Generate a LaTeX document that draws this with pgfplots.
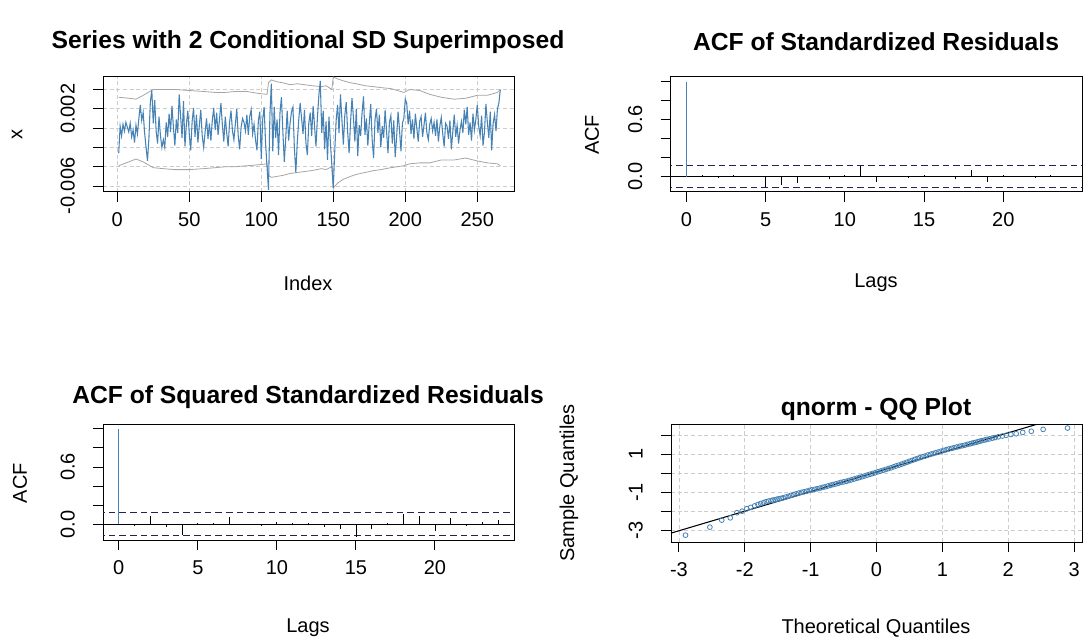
\documentclass[border=0pt]{standalone}
\usepackage{pgfplots}
\pgfplotsset{compat=1.18}
\usepackage{pgfplotstable}
\usepackage{fontspec}
\setmainfont{Liberation Sans}
\definecolor{steel}{RGB}{70,130,180}
\definecolor{gridgray}{RGB}{205,205,205}
\definecolor{sdgray}{RGB}{165,165,165}
\definecolor{cinavy}{RGB}{35,35,85}
\newcommand{\tickfont}{\fontsize{15}{15}\selectfont}
\newcommand{\titlefont}{\bfseries\fontsize{18.5}{18.5}\selectfont}

\pgfplotstableread[row sep=\\]{
i v\\
1 -0.0026\\ 2 0.0002\\ 3 -0.0008\\ 4 0.0004\\ 5 -0.0003\\ 6 0.0006\\ 7 0.0001\\ 8 -0.0004\\ 9 0.0005\\ 10 -0.0009\\
11 -0.0002\\ 12 -0.0015\\ 13 0.0003\\ 14 -0.0006\\ 15 0.0010\\ 16 0.0024\\ 17 0.0008\\ 18 0.0016\\ 19 -0.0005\\ 20 -0.0020\\
21 -0.0034\\ 22 -0.0010\\ 23 0.0028\\ 24 0.0039\\ 25 0.0005\\ 26 0.0029\\ 27 -0.0003\\ 28 -0.0016\\ 29 0.0012\\ 30 -0.0008\\
31 -0.0020\\ 32 -0.0012\\ 33 -0.0020\\ 34 0.0006\\ 35 -0.0009\\ 36 0.0015\\ 37 -0.0004\\ 38 0.0023\\ 39 0.0001\\ 40 -0.0018\\
41 0.0009\\ 42 -0.0005\\ 43 0.0035\\ 44 0.0012\\ 45 -0.0010\\ 46 0.0028\\ 47 -0.0019\\ 48 0.0004\\ 49 0.0018\\ 50 -0.0006\\
51 -0.0023\\ 52 0.0007\\ 53 0.0021\\ 54 -0.0009\\ 55 0.0014\\ 56 -0.0015\\ 57 0.0003\\ 58 0.0019\\ 59 -0.0008\\ 60 -0.0020\\
61 -0.0004\\ 62 0.0010\\ 63 -0.0011\\ 64 0.0005\\ 65 -0.0013\\ 66 0.0008\\ 67 0.0021\\ 68 -0.0002\\ 69 0.0016\\ 70 -0.0007\\
71 0.0009\\ 72 0.0026\\ 73 0.0003\\ 74 -0.0014\\ 75 0.0012\\ 76 -0.0005\\ 77 -0.0019\\ 78 0.0006\\ 79 0.0018\\ 80 -0.0003\\
81 -0.0012\\ 82 0.0004\\ 83 0.0020\\ 84 -0.0008\\ 85 -0.0022\\ 86 0.0001\\ 87 0.0010\\ 88 0.0006\\ 89 -0.0003\\ 90 0.0014\\
91 -0.0007\\ 92 0.0012\\ 93 0.0019\\ 94 -0.0006\\ 95 0.0004\\ 96 -0.0012\\ 97 -0.0023\\ 98 0.0008\\ 99 0.0017\\ 100 -0.0032\\
101 0.0009\\ 102 0.0022\\ 103 -0.0016\\ 104 -0.0040\\ 105 -0.0064\\ 106 0.0014\\ 107 0.0046\\ 108 -0.0024\\ 109 0.0022\\ 110 -0.0010\\
111 0.0009\\ 112 -0.0028\\ 113 0.0016\\ 114 0.0032\\ 115 -0.0004\\ 116 -0.0035\\ 117 -0.0010\\ 118 0.0018\\ 119 -0.0013\\ 120 0.0005\\
121 0.0017\\ 122 0.0022\\ 123 -0.0021\\ 124 -0.0046\\ 125 -0.0015\\ 126 0.0008\\ 127 0.0026\\ 128 0.0010\\ 129 -0.0006\\ 130 0.0019\\
131 -0.0015\\ 132 -0.0028\\ 133 0.0005\\ 134 0.0016\\ 135 -0.0008\\ 136 0.0023\\ 137 0.0002\\ 138 -0.0019\\ 139 0.0011\\ 140 0.0034\\
141 0.0049\\ 142 -0.0005\\ 143 0.0018\\ 144 -0.0022\\ 145 0.0007\\ 146 -0.0033\\ 147 0.0012\\ 148 -0.0015\\ 149 -0.0038\\ 150 -0.0062\\
151 -0.0025\\ 152 0.0008\\ 153 0.0024\\ 154 -0.0005\\ 155 0.0035\\ 156 0.0009\\ 157 -0.0017\\ 158 0.0013\\ 159 0.0027\\ 160 -0.0004\\
161 -0.0026\\ 162 0.0006\\ 163 0.0031\\ 164 0.0011\\ 165 -0.0014\\ 166 0.0020\\ 167 -0.0029\\ 168 0.0003\\ 169 -0.0008\\ 170 0.0016\\
171 0.0033\\ 172 -0.0007\\ 173 0.0010\\ 174 -0.0018\\ 175 0.0005\\ 176 0.0025\\ 177 -0.0012\\ 178 -0.0031\\ 179 0.0009\\ 180 0.0020\\
181 -0.0005\\ 182 0.0014\\ 183 -0.0020\\ 184 0.0002\\ 185 -0.0010\\ 186 0.0019\\ 187 -0.0003\\ 188 -0.0026\\ 189 0.0006\\ 190 0.0013\\
191 -0.0016\\ 192 0.0008\\ 193 -0.0030\\ 194 -0.0009\\ 195 0.0017\\ 196 -0.0002\\ 197 -0.0024\\ 198 0.0005\\ 199 0.0010\\ 200 0.0030\\
201 0.0026\\ 202 0.0004\\ 203 0.0018\\ 204 -0.0006\\ 205 0.0009\\ 206 -0.0011\\ 207 0.0015\\ 208 0.0000\\ 209 -0.0014\\ 210 0.0007\\
211 0.0012\\ 212 -0.0009\\ 213 0.0003\\ 214 0.0016\\ 215 -0.0005\\ 216 -0.0012\\ 217 0.0004\\ 218 0.0010\\ 219 -0.0003\\ 220 0.0006\\
221 -0.0008\\ 222 0.0009\\ 223 -0.0014\\ 224 0.0002\\ 225 0.0011\\ 226 -0.0006\\ 227 -0.0019\\ 228 0.0005\\ 229 0.0002\\ 230 -0.0011\\
231 0.0008\\ 232 -0.0022\\ 233 -0.0004\\ 234 0.0014\\ 235 -0.0009\\ 236 0.0003\\ 237 -0.0016\\ 238 -0.0002\\ 239 0.0007\\ 240 -0.0005\\
241 0.0019\\ 242 0.0004\\ 243 0.0022\\ 244 -0.0007\\ 245 0.0006\\ 246 -0.0013\\ 247 0.0015\\ 248 -0.0002\\ 249 0.0009\\ 250 0.0024\\
251 0.0002\\ 252 -0.0008\\ 253 0.0013\\ 254 -0.0018\\ 255 -0.0004\\ 256 0.0025\\ 257 0.0006\\ 258 -0.0010\\ 259 0.0017\\ 260 -0.0023\\
261 0.0005\\ 262 0.0014\\ 263 -0.0003\\ 264 0.0020\\ 265 0.0026\\ 266 0.0040\\
}\series

\pgfplotstableread[row sep=\\]{
i up lo\\
1 0.0032 -0.0039\\ 8 0.0031 -0.0035\\ 13 0.0030 -0.0032\\ 18 0.0034 -0.0035\\ 25 0.0040 -0.0041\\
32 0.0040 -0.0042\\ 40 0.0040 -0.0043\\ 50 0.0039 -0.0043\\ 60 0.0038 -0.0042\\ 68 0.0037 -0.0041\\
75 0.0037 -0.0040\\ 82 0.0038 -0.0040\\ 90 0.0038 -0.0039\\ 98 0.0036 -0.0038\\ 104 0.0035 -0.0037\\
105 0.0047 -0.0049\\ 107 0.0050 -0.0051\\ 111 0.0048 -0.0050\\ 115 0.0047 -0.0049\\ 120 0.0045 -0.0047\\
125 0.0046 -0.0046\\ 130 0.0045 -0.0045\\ 135 0.0044 -0.0044\\ 142 0.0043 -0.0042\\ 145 0.0044 -0.0043\\
149 0.0040 -0.0040\\ 150 0.0053 -0.0062\\ 153 0.0051 -0.0057\\ 157 0.0049 -0.0053\\ 162 0.0047 -0.0050\\
166 0.0046 -0.0048\\ 172 0.0044 -0.0046\\ 178 0.0043 -0.0044\\ 183 0.0042 -0.0043\\ 190 0.0041 -0.0041\\
199 0.0037 -0.0039\\ 203 0.0040 -0.0037\\ 210 0.0039 -0.0036\\ 217 0.0035 -0.0036\\ 225 0.0032 -0.0033\\
234 0.0030 -0.0033\\ 242 0.0031 -0.0031\\ 250 0.0034 -0.0034\\ 257 0.0034 -0.0036\\ 264 0.0037 -0.0037\\
266 0.0040 -0.0039\\
}\sdband

\pgfplotstableread[row sep=\\]{
lag acf\\
1 0.02\\ 2 -0.005\\ 3 0.02\\ 4 0.003\\ 5 -0.11\\ 6 -0.085\\ 7 -0.068\\ 8 0.004\\ 9 -0.025\\ 10 0.018\\
11 0.115\\ 12 -0.058\\ 13 0.006\\ 14 -0.004\\ 15 0.015\\ 16 0.008\\ 17 -0.028\\ 18 0.072\\ 19 -0.058\\ 20 0.018\\
21 0.008\\ 22 -0.003\\ 23 0.016\\ 24 0.009\\
}\acfres

\pgfplotstableread[row sep=\\]{
lag acf\\
1 -0.015\\ 2 0.092\\ 3 -0.025\\ 4 -0.106\\ 5 0.02\\ 6 0.018\\ 7 0.078\\ 8 -0.01\\ 9 -0.02\\ 10 0.025\\
11 0.02\\ 12 0.018\\ 13 -0.03\\ 14 -0.048\\ 15 -0.135\\ 16 -0.048\\ 17 0.01\\ 18 0.108\\ 19 0.086\\ 20 -0.066\\
21 0.072\\ 22 -0.02\\ 23 0.025\\ 24 0.045\\
}\acfsq

\pgfplotstableread[row sep=\\]{
t s\\
-2.90 -3.26\\ -2.53 -2.84\\ -2.35 -2.47\\ -2.22 -2.35\\ -2.12 -2.08\\ -2.04 -2.00\\ -1.97 -1.87\\ -1.91 -1.80\\
-1.85 -1.72\\ -1.80 -1.65\\ -1.76 -1.60\\ -1.715 -1.55\\ -1.675 -1.50\\ -1.64 -1.47\\ -1.60 -1.44\\ -1.57 -1.42\\
-1.54 -1.40\\ -1.51 -1.37\\ -1.48 -1.35\\ -1.45 -1.33\\
-1.42 -1.30\\ -1.38 -1.26\\ -1.34 -1.22\\ -1.30 -1.17\\ -1.26 -1.13\\ -1.22 -1.09\\ -1.18 -1.05\\ -1.14 -1.01\\
-1.10 -0.98\\ -1.06 -0.95\\ -1.02 -0.91\\ -0.98 -0.88\\ -0.94 -0.85\\ -0.90 -0.82\\ -0.86 -0.79\\ -0.82 -0.75\\
-0.78 -0.72\\ -0.74 -0.68\\ -0.70 -0.64\\ -0.66 -0.60\\ -0.62 -0.57\\ -0.58 -0.53\\ -0.54 -0.49\\ -0.50 -0.46\\
-0.46 -0.43\\ -0.42 -0.39\\ -0.38 -0.35\\ -0.34 -0.31\\ -0.30 -0.27\\ -0.26 -0.23\\ -0.22 -0.19\\ -0.18 -0.15\\
-0.14 -0.10\\ -0.10 -0.06\\ -0.06 -0.02\\ -0.02 0.02\\ 0.02 0.07\\ 0.06 0.11\\ 0.10 0.15\\ 0.14 0.19\\
0.18 0.24\\ 0.22 0.28\\ 0.26 0.33\\ 0.30 0.38\\ 0.34 0.42\\ 0.38 0.47\\ 0.42 0.52\\ 0.46 0.57\\
0.50 0.62\\ 0.54 0.67\\ 0.58 0.72\\ 0.62 0.77\\ 0.66 0.81\\ 0.70 0.86\\ 0.74 0.90\\ 0.78 0.95\\
0.82 0.99\\ 0.86 1.03\\ 0.90 1.07\\ 0.94 1.11\\ 0.98 1.15\\ 1.02 1.19\\ 1.06 1.23\\ 1.10 1.27\\
1.14 1.30\\ 1.18 1.34\\ 1.22 1.37\\ 1.26 1.41\\ 1.30 1.44\\ 1.34 1.47\\ 1.38 1.51\\ 1.42 1.54\\
1.45 1.57\\ 1.48 1.60\\ 1.51 1.62\\ 1.54 1.65\\ 1.57 1.68\\ 1.60 1.71\\ 1.64 1.74\\ 1.675 1.77\\
1.715 1.80\\ 1.76 1.84\\ 1.80 1.87\\ 1.85 1.91\\ 1.91 1.95\\ 1.97 1.99\\ 2.04 2.03\\ 2.12 2.07\\
2.22 2.14\\ 2.35 2.20\\ 2.53 2.30\\ 2.90 2.37\\
}\qq

\pgfplotsset{
  rbase/.style={
    scale only axis,
    axis line style={black, line width=0.75pt},
    tick align=outside,
    tick pos=left,
    major tick length=7.5pt,
    every tick/.style={black, line width=0.75pt},
    tick label style={font=\tickfont},
    /pgf/number format/assume math mode=true,
    yticklabel style={rotate=90, anchor=south, inner sep=0pt, yshift=13.5pt},
    xticklabel style={anchor=north, inner sep=0pt, yshift=-8pt},
    anchor=south west,
    width=308.25pt, height=86.25pt,
  },
  rgrid/.style={grid=major, grid style={gridgray, line width=0.6pt, dash pattern=on 3pt off 2pt}},
  acfaxis/.style={rbase,
    xmin=-1, xmax=25, ymin=-0.163, ymax=1.05,
    xtick={0,5,10,15,20},
    xticklabels={0,5,10,15,20},
    ytick={0,0.2,0.4,0.6,0.8,1.0},
    yticklabels={0.0,,,0.6,,},
  },
}

\begin{document}
\begin{tikzpicture}[x=0.75pt,y=0.75pt]
\path[use as bounding box] (0,0) rectangle (1085,643);

% Panel 1
\begin{axis}[rbase, rgrid, at={(77.25pt,338.25pt)},
  xmin=-9.9, xmax=275.5, ymin=-0.00662, ymax=0.0053,
  xtick={0,50,100,150,200,250},
  xticklabels={0,50,100,150,200,250},
  ytick={-0.006,-0.004,-0.002,0,0.002,0.004},
  yticklabels={-0.006,,,,0.002,},
  scaled y ticks=false]
\addplot[sdgray, line width=0.6pt] table[x=i, y=up] {\sdband};
\addplot[sdgray, line width=0.6pt] table[x=i, y=lo] {\sdband};
\addplot[steel, line width=0.8pt] table[x=i, y=v] {\series};
\end{axis}

% Panel 2
\begin{axis}[acfaxis, at={(502.875pt,338.25pt)}, width=309pt]
\addplot[cinavy, line width=0.8pt, dash pattern=on 5pt off 3pt] coordinates {(-2,0.12) (26,0.12)};
\addplot[cinavy, line width=0.8pt, dash pattern=on 5pt off 3pt] coordinates {(-2,-0.12) (26,-0.12)};
\addplot[black, line width=0.75pt] coordinates {(-2,0) (26,0)};
\addplot[ycomb, black, line width=0.6pt, mark=none] table[x=lag, y=acf] {\acfres};
\addplot[ycomb, steel, line width=0.8pt, mark=none] coordinates {(0,1)};
\end{axis}

% Panel 3
\begin{axis}[acfaxis, at={(77.25pt,77.25pt)}, height=87pt]
\addplot[cinavy, line width=0.8pt, dash pattern=on 5pt off 3pt] coordinates {(-2,0.12) (26,0.12)};
\addplot[cinavy, line width=0.8pt, dash pattern=on 5pt off 3pt] coordinates {(-2,-0.12) (26,-0.12)};
\addplot[black, line width=0.75pt] coordinates {(-2,0) (26,0)};
\addplot[ycomb, black, line width=0.6pt, mark=none] table[x=lag, y=acf] {\acfsq};
\addplot[ycomb, steel, line width=0.8pt, mark=none] coordinates {(0,1)};
\end{axis}

% Panel 4
\begin{axis}[rbase, rgrid, at={(503.25pt,75.75pt)}, width=308.25pt, height=87.75pt,
  xmin=-3.12, xmax=3.12, ymin=-3.62, ymax=2.53,
  xtick={-3,-2,-1,0,1,2,3},
  ytick={-3,-2,-1,0,1,2},
  xticklabels={-3,-2,-1,0,1,2,3},
  yticklabels={-3,,-1,,1,}]
\addplot[only marks, mark=o, mark size=1.8pt, steel, mark options={line width=0.6pt}] table[x=t, y=s] {\qq};
\addplot[black, line width=0.8pt] coordinates {(-3.5,-3.545) (3.5,3.665)};
\end{axis}

% titles and labels
\node[font=\titlefont] at (308,601) {Series with 2 Conditional SD Superimposed};
\node[font=\titlefont] at (876,601) {ACF of Standardized Residuals};
\node[font=\titlefont] at (308,246) {ACF of Squared Standardized Residuals};
\node[font=\titlefont] at (876,234) {qnorm - QQ Plot};
\node[font=\tickfont] at (308,360) {Index};
\node[font=\tickfont] at (876,360) {Lags};
\node[font=\tickfont] at (308,15) {Lags};
\node[font=\tickfont] at (876,15) {Theoretical Quantiles};
\node[font=\tickfont, rotate=90] at (17,508) {x};
\node[font=\tickfont, rotate=90] at (592,508) {ACF};
\node[font=\tickfont, rotate=90] at (20,160) {ACF};
\node[font=\tickfont, rotate=90] at (569,160) {Sample Quantiles};
\end{tikzpicture}
\end{document}
